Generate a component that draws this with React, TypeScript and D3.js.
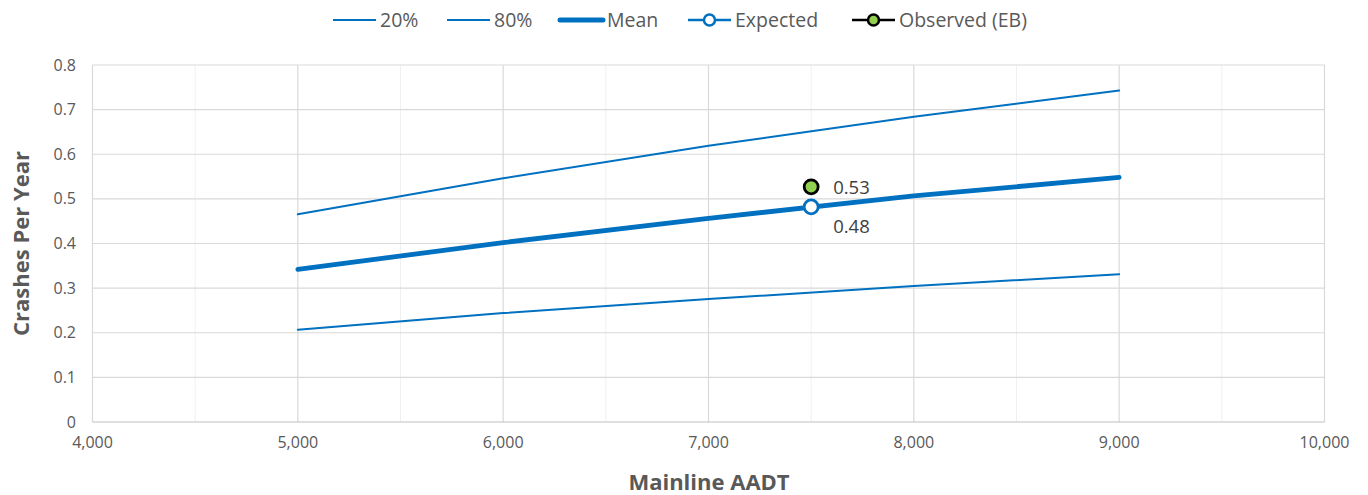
import React, { useEffect, useRef } from "react";
import * as d3 from "d3";

const aadt = [5000, 6000, 7000, 8000, 9000];
const p20 = [0.2067, 0.244, 0.2756, 0.3047, 0.331];
const p80 = [0.4655, 0.546, 0.619, 0.684, 0.7426];
const mean = [0.342, 0.402, 0.4565, 0.5065, 0.548];
const expected = [{ x: 7500, y: 0.482, label: "0.48" }];
const observed = [{ x: 7500, y: 0.527, label: "0.53" }];
const xTicks = [4000, 5000, 6000, 7000, 8000, 9000, 10000];
const xMinor = [4500, 5500, 6500, 7500, 8500, 9500];
const yTicks = [0, 0.1, 0.2, 0.3, 0.4, 0.5, 0.6, 0.7, 0.8];

const BLUE = "#0070C0";
const FONT = "'Open Sans', 'Noto Sans', sans-serif";

export default function App() {
  const ref = useRef<SVGSVGElement>(null);
  useEffect(() => {
    const svg = d3.select(ref.current);
    svg.selectAll("*").remove();
    const x = d3.scaleLinear().domain([4000, 10000]).range([92.5, 1324.5]);
    const y = d3.scaleLinear().domain([0, 0.8]).range([422, 65]);

    const g = svg.append("g");
    g.selectAll(".minor").data(xMinor).enter().append("line")
      .attr("x1", d => x(d)).attr("x2", d => x(d)).attr("y1", y(0.8)).attr("y2", y(0))
      .attr("stroke", "#f0f0f0").attr("stroke-width", 1);
    g.selectAll(".vmaj").data(xTicks).enter().append("line")
      .attr("x1", d => x(d)).attr("x2", d => x(d)).attr("y1", y(0.8)).attr("y2", y(0))
      .attr("stroke", "#d9d9d9").attr("stroke-width", 1.2);
    g.selectAll(".hmaj").data(yTicks).enter().append("line")
      .attr("x1", x(4000)).attr("x2", x(10000)).attr("y1", d => y(d)).attr("y2", d => y(d))
      .attr("stroke", d => (d === 0 ? "#bfbfbf" : "#d9d9d9")).attr("stroke-width", 1.2);

    g.selectAll(".yl").data(yTicks).enter().append("text")
      .attr("x", 76).attr("y", d => y(d)).attr("dy", "0.35em").attr("text-anchor", "end")
      .attr("font-family", FONT).attr("font-size", 16).attr("fill", "#595959")
      .text(d => (d === 0 ? "0" : d3.format(".1f")(d)));
    g.selectAll(".xl").data(xTicks).enter().append("text")
      .attr("x", d => x(d)).attr("y", 442).attr("dy", "0.35em").attr("text-anchor", "middle")
      .attr("font-family", FONT).attr("font-size", 16).attr("fill", "#595959")
      .text(d => d3.format(",")(d));

    g.append("text").attr("x", 709).attr("y", 482).attr("dy", "0.35em")
      .attr("text-anchor", "middle").attr("font-family", FONT).attr("font-weight", "bold")
      .attr("font-size", 22).attr("fill", "#595959").text("Mainline AADT");
    g.append("text").attr("transform", `translate(21,${y(0.4)}) rotate(-90)`).attr("dy", "0.35em")
      .attr("text-anchor", "middle").attr("font-family", FONT).attr("font-weight", "bold")
      .attr("font-size", 22).attr("fill", "#595959").text("Crashes Per Year");

    const line = d3.line<number>().x((_, i) => x(aadt[i])).y(d => y(d));
    const series = [
      { data: p20, w: 2 },
      { data: p80, w: 2 },
      { data: mean, w: 4.8 },
    ];
    series.forEach(s => {
      g.append("path").attr("d", line(s.data) as string).attr("fill", "none")
        .attr("stroke", BLUE).attr("stroke-width", s.w).attr("stroke-linecap", "round");
    });

    g.selectAll(".exp").data(expected).enter().append("circle")
      .attr("cx", d => x(d.x)).attr("cy", d => y(d.y)).attr("r", 7)
      .attr("fill", "#fff").attr("stroke", BLUE).attr("stroke-width", 2.8);
    g.selectAll(".obs").data(observed).enter().append("circle")
      .attr("cx", d => x(d.x)).attr("cy", d => y(d.y)).attr("r", 7)
      .attr("fill", "#92D050").attr("stroke", "#000").attr("stroke-width", 2.8);
    g.selectAll(".expl").data(expected).enter().append("text")
      .attr("x", d => x(d.x) + 22).attr("y", d => y(d.y) + 20).attr("dy", "0.35em")
      .attr("font-family", FONT).attr("font-size", 18.5).attr("fill", "#404040").text(d => d.label);
    g.selectAll(".obsl").data(observed).enter().append("text")
      .attr("x", d => x(d.x) + 22).attr("y", d => y(d.y) + 1).attr("dy", "0.35em")
      .attr("font-family", FONT).attr("font-size", 18.5).attr("fill", "#404040").text(d => d.label);

    const legend = [
      { name: "20%", x0: 333, w: 2, marker: null },
      { name: "80%", x0: 447, w: 2, marker: null },
      { name: "Mean", x0: 560, w: 5, marker: null },
      { name: "Expected", x0: 688, w: 2.5, marker: "exp" },
      { name: "Observed (EB)", x0: 852, w: 2.5, marker: "obs" },
    ];
    const ly = 20;
    legend.forEach(l => {
      const stroke = l.marker === "obs" ? "#000" : BLUE;
      g.append("line").attr("x1", l.x0).attr("x2", l.x0 + 43).attr("y1", ly).attr("y2", ly)
        .attr("stroke", stroke).attr("stroke-width", l.w)
        .attr("stroke-linecap", l.name === "Mean" ? "round" : "butt");
      if (l.marker) {
        g.append("circle").attr("cx", l.x0 + 21.5).attr("cy", ly).attr("r", 5.5)
          .attr("fill", l.marker === "obs" ? "#92D050" : "#fff").attr("stroke", stroke).attr("stroke-width", 2.5);
      }
      g.append("text").attr("x", l.x0 + 47).attr("y", ly).attr("dy", "0.35em")
        .attr("font-family", FONT).attr("font-size", 19.5).attr("fill", "#595959").text(l.name);
    });
  }, []);
  return (
    <svg ref={ref} width={1368} height={495}
      style={{ position: "absolute", left: 0, top: 0, background: "#fff" }} />
  );
}
